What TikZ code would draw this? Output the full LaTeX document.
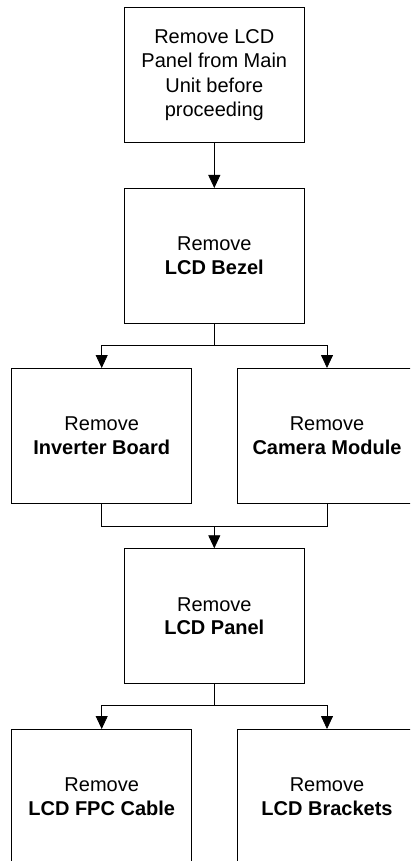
\documentclass[tikz,border=0pt]{standalone}
\usepackage{fontspec}
\setmainfont{Liberation Sans}
\usetikzlibrary{arrows.meta,positioning,calc}
\begin{document}
\begin{tikzpicture}[x=1pt,y=1pt,
  stepbox/.style={draw, line width=0.8pt, minimum width=180pt, minimum height=135pt,
    inner sep=0pt, align=center, anchor=north, font=\fontsize{20}{23.4}\selectfont},
  conn/.style={line width=0.8pt},
  arr/.style={conn, -{Triangle[width=12pt,length=13pt]}}]
\useasboundingbox (0,0) rectangle (410,-861);
\clip (0,0) rectangle (410,-861);
\node[stepbox, font=\fontsize{20}{24.5}\selectfont] (top) at (214.3,-7.3) {Remove LCD\\Panel from Main\\Unit before\\proceeding};
\node[stepbox] (bezel) at (214.3,-188) {Remove\\\textbf{LCD Bezel}};
\node[stepbox] (inv) at (101.7,-368) {Remove\\\textbf{Inverter Board}};
\node[stepbox] (cam) at (327,-368) {Remove\\\textbf{Camera Module}};
\node[stepbox] (panel) at (214.3,-548.3) {Remove\\\textbf{LCD Panel}};
\node[stepbox] (fpc) at (101.7,-729) {Remove\\\textbf{LCD FPC Cable}};
\node[stepbox] (brk) at (327,-729) {Remove\\\textbf{LCD Brackets}};
\coordinate (s1) at (214.3,-345);
\coordinate (m1) at (214.3,-526);
\coordinate (s2) at (214.3,-705.7);
\draw[arr] (top.south) -- (bezel.north);
\draw[conn] (bezel.south) -- (s1);
\draw[arr] (s1) -| (inv.north);
\draw[arr] (s1) -| (cam.north);
\draw[conn] (inv.south) |- (m1);
\draw[conn] (cam.south) |- (m1);
\draw[arr] (m1) -- (panel.north);
\draw[conn] (panel.south) -- (s2);
\draw[arr] (s2) -| (fpc.north);
\draw[arr] (s2) -| (brk.north);
\end{tikzpicture}
\end{document}
